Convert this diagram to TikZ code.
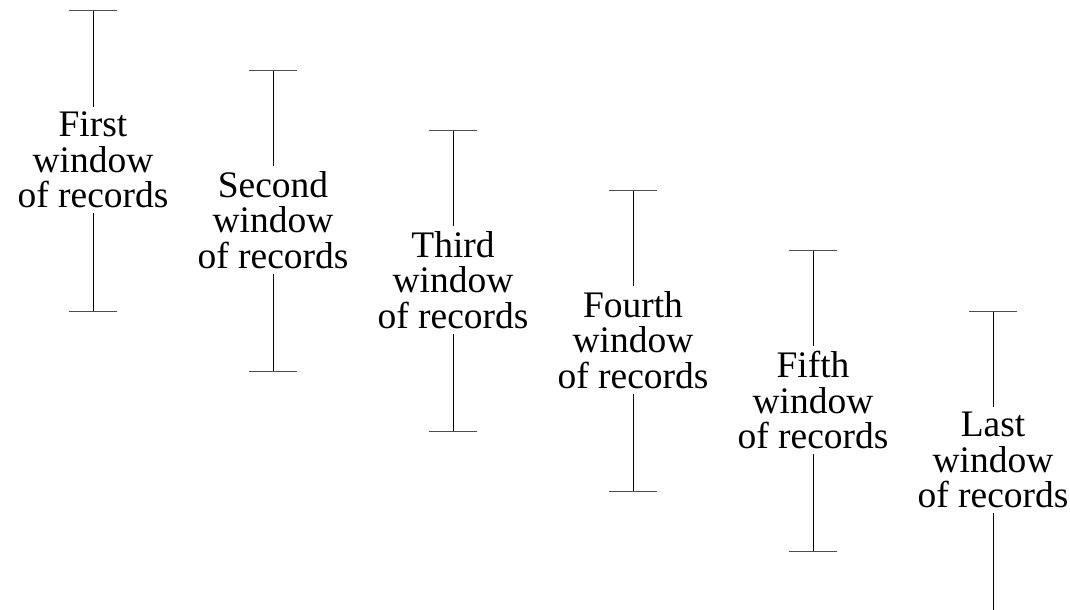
\documentclass[tikz,border=0pt]{standalone}
\usepackage{fontspec}
\setmainfont{Liberation Serif}
\begin{document}
\begin{tikzpicture}[x=1bp,y=-1bp,
  lbl/.style={align=center,inner xsep=0,inner ysep=5bp,font=\fontsize{37.6}{35.6}\selectfont},
  stem/.style={line width=1bp,black},
  bar/.style={line width=1bp,black!70}]
\useasboundingbox (0,0) rectangle (1070,610);
\foreach \i/\x/\t/\name in {1/93/11/First,2/273/71/Second,3/453/131/Third,4/633/191/Fourth,5/813/251/Fifth,6/993/311/Last}{
  \coordinate (t\i) at (\x,\t);
  \coordinate (b\i) at (\x,\t+300);
  \node[lbl] (w\i) at (\x,\t+149) {\name\\window\\of records};
  \draw[stem] (t\i) -- (w\i.north);
  \draw[stem] (w\i.south) -- (b\i);
  \draw[bar] ([xshift=-24bp]t\i) -- ([xshift=24bp]t\i);
  \draw[bar] ([xshift=-24bp]b\i) -- ([xshift=24bp]b\i);
}
\end{tikzpicture}
\end{document}
